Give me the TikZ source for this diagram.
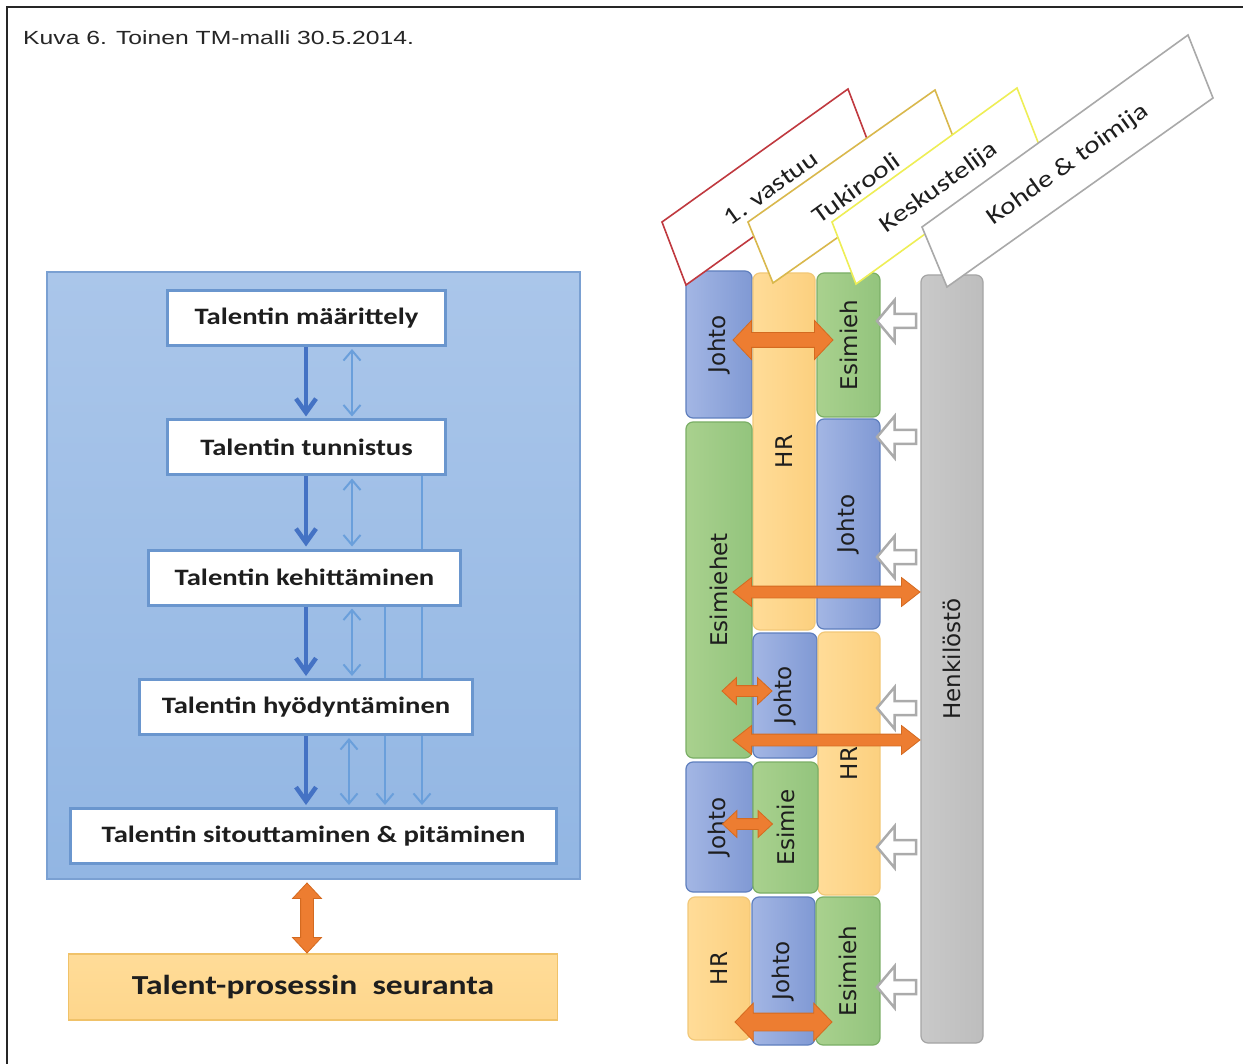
\documentclass[tikz,border=0pt]{standalone}
\usepackage{fontspec}
\setmainfont{Carlito}
\newfontfamily\capfont[FakeStretch=1.3]{Liberation Sans}
\newfontfamily\boxfont[FakeStretch=1.22]{Carlito}
\newfontfamily\colfont{DejaVu Sans}
\usetikzlibrary{arrows.meta,shapes.arrows,calc}

\definecolor{panelTop}{HTML}{AAC6EA}
\definecolor{panelBot}{HTML}{92B6E3}
\definecolor{panelLine}{HTML}{7AA0D2}
\definecolor{boxLine}{HTML}{6A96CE}
\definecolor{flowDark}{HTML}{4472C4}
\definecolor{flowLight}{HTML}{6A9FDB}
\definecolor{seurFill}{HTML}{FED68C}
\definecolor{seurLine}{HTML}{F0C269}
\definecolor{blueL}{HTML}{A3B6E4}
\definecolor{blueR}{HTML}{8099D4}
\definecolor{blueLine}{HTML}{5F7FBE}
\definecolor{orL}{HTML}{FFDC98}
\definecolor{orR}{HTML}{FCD07F}
\definecolor{orLine}{HTML}{F2C878}
\definecolor{grL}{HTML}{A9D18E}
\definecolor{grR}{HTML}{93C47D}
\definecolor{grLine}{HTML}{7BAF66}
\definecolor{gyL}{HTML}{C9C9C9}
\definecolor{gyR}{HTML}{BDBDBD}
\definecolor{gyLine}{HTML}{A5A5A5}
\definecolor{fatFill}{HTML}{ED7D31}
\definecolor{fatLine}{HTML}{D46A20}
\definecolor{hollowLine}{HTML}{ABABAB}
\definecolor{labRed}{HTML}{C0393F}
\definecolor{labGold}{HTML}{D9B84C}
\definecolor{labYellow}{HTML}{EEEE55}
\definecolor{labGrey}{HTML}{A9A9A9}
\definecolor{ink}{HTML}{1E1E1E}

\pgfdeclarelayer{back}
\pgfdeclarelayer{mid}
\pgfsetlayers{back,mid,main}

\tikzset{
  thintip/.tip={Straight Barb[length=10pt,width=17pt]},
  thicktip/.tip={Straight Barb[length=14pt,width=20pt]}
}

\begin{document}
\begin{tikzpicture}[x=1pt,y=-1pt,
  bluepanel/.style={draw=panelLine, line width=2pt, top color=panelTop, bottom color=panelBot, inner sep=0},
  stepbox/.style={draw=boxLine, line width=3pt, fill=white, inner sep=0, minimum height=55pt,
    text=ink, font=\boxfont\bfseries\fontsize{23.5}{26}\selectfont},
  seurbox/.style={draw=seurLine, line width=1.5pt, top color=orL, bottom color=seurFill, inner sep=0,
    text=ink, font=\boxfont\bfseries\fontsize{27.5}{30}\selectfont},
  thickarr/.style={draw=flowDark, line width=4.5pt, -thicktip, shorten >=2pt},
  thinarr/.style={draw=flowLight, line width=2pt},
  blk/.style={rounded corners=7pt, line width=1.2pt, inner sep=0, text=ink,
    font=\colfont\fontsize{23}{26}\selectfont},
  bluebk/.style={blk, draw=blueLine, left color=blueL, right color=blueR},
  orbk/.style={blk, draw=orLine, left color=orL, right color=orR},
  grbk/.style={blk, draw=grLine, left color=grL, right color=grR},
  gybk/.style={blk, draw=gyLine, left color=gyL, right color=gyR},
  fatdbl/.style={double arrow, fill=fatFill, draw=fatLine, line width=0.8pt, inner xsep=0},
  hollow/.style={single arrow, fill=white, draw=hollowLine, line width=2.5pt, inner xsep=0,
    inner ysep=5.75pt, minimum height=39pt, single arrow head extend=14pt,
    single arrow tip angle=100, rotate=180},
  lab/.style={fill=white, line width=1.6pt, line join=miter},
  labtext/.style={text=ink, inner sep=0, rotate=35.7, font=\boxfont\fontsize{24}{28}\selectfont}
]
\useasboundingbox (0,0) rectangle (1243,1064);
\begin{pgfonlayer}{back}
\fill[white] (0,0) rectangle (1243,1064);
\end{pgfonlayer}

% frame and caption
\draw[line width=2pt, black!85] (7,1064) -- (7,7) -- (1243,7);
\node[anchor=base west, inner sep=0, text=black!85, font=\capfont\fontsize{19}{22}\selectfont] (cap) at (23,45) {Kuva 6. Toinen TM-malli 30.5.2014.};

% ---------- process flow ----------
\begin{pgfonlayer}{back}
\node[bluepanel, minimum width=533pt, minimum height=607pt] (panel) at (313.5,575.5) {};
\end{pgfonlayer}

\node[stepbox, minimum width=278pt] (maar) at (306.5,318) {Talentin määrittely};
\node[stepbox, minimum width=278pt] (tunn) at (306.5,447.5) {Talentin tunnistus};
\node[stepbox, minimum width=312pt] (keh)  at (304.5,577.5) {Talentin kehittäminen};
\node[stepbox, minimum width=333pt] (hyo)  at (306,707) {Talentin hyödyntäminen};
\node[stepbox, minimum width=486pt] (sit)  at (313.5,836) {Talentin sitouttaminen \& pitäminen};
\node[seurbox, minimum width=489pt, minimum height=66pt] (seur) at (313,987) {Talent-prosessin\ \ seuranta};

\coordinate (ax) at (306,0);
\coordinate (bx) at (352,0);
\coordinate (bx2) at (349,0);
\coordinate (cx) at (385,0);
\coordinate (dx) at (422,0);

\draw[thickarr] (maar.south -| ax) -- (tunn.north -| ax);
\draw[thickarr] (tunn.south -| ax) -- (keh.north -| ax);
\draw[thickarr] (keh.south -| ax) -- (hyo.north -| ax);
\draw[thickarr] (hyo.south -| ax) -- (sit.north -| ax);

\draw[thinarr, thintip-thintip, shorten <=2pt, shorten >=2pt] (maar.south -| bx) -- (tunn.north -| bx);
\draw[thinarr, thintip-thintip, shorten <=2pt, shorten >=2pt] (tunn.south -| bx) -- (keh.north -| bx);
\draw[thinarr, thintip-thintip, shorten <=2pt, shorten >=2pt] (keh.south -| bx) -- (hyo.north -| bx);
\draw[thinarr, thintip-thintip, shorten <=2pt, shorten >=2pt] (hyo.south -| bx2) -- (sit.north -| bx2);

\begin{pgfonlayer}{mid}
\draw[thinarr, -thintip, shorten >=2pt] (tunn.south -| dx) -- (sit.north -| dx);
\draw[thinarr, -thintip, shorten >=2pt] (keh.south -| cx) -- (sit.north -| cx);
\end{pgfonlayer}

\node[fatdbl, rotate=90, minimum height=70pt, inner ysep=6pt, double arrow head extend=8pt,
  double arrow tip angle=86] (va) at (307,918) {};

% ---------- role columns ----------
\node[bluebk, minimum width=66pt, minimum height=147pt] (j1) at (719,344.5) {\rotatebox{90}{Johto}};
\node[orbk,   minimum width=62pt, minimum height=357pt] (hr1) at (784,451.5) {\rotatebox{90}{HR}};
\node[grbk,   minimum width=63pt, minimum height=144pt] (e1) at (848.5,345) {\rotatebox{90}{Esimieh}};
\node[grbk,   minimum width=66pt, minimum height=336pt] (e2) at (719,590) {\rotatebox{90}{Esimiehet}};
\node[bluebk, minimum width=63pt, minimum height=210pt] (j2) at (848.5,524) {\rotatebox{90}{Johto}};
\node[bluebk, minimum width=64pt, minimum height=125pt] (j3) at (785,695.5) {\rotatebox{90}{Johto}};
\node[orbk,   minimum width=62pt, minimum height=263pt] (hr2) at (849,763.5) {\rotatebox{90}{HR}};
\node[bluebk, minimum width=67pt, minimum height=130pt] (j4) at (719.5,827) {\rotatebox{90}{Johto}};
\node[grbk,   minimum width=65pt, minimum height=131pt] (e3) at (785.5,827.5) {\rotatebox{90}{Esimie}};
\node[orbk,   minimum width=62pt, minimum height=143pt] (hr3) at (719,968.5) {\rotatebox{90}{HR}};
\node[bluebk, minimum width=63pt, minimum height=148pt] (j5) at (783.5,971) {\rotatebox{90}{Johto}};
\node[grbk,   minimum width=64pt, minimum height=148pt] (e4) at (848,971) {\rotatebox{90}{Esimieh}};
\node[gybk,   minimum width=62pt, minimum height=768pt] (hk) at (952,659) {\rotatebox{90}{Henkilöstö}};

% slanted role headings
\draw[lab, draw=labRed] (662,222) -- (848,89) -- (872,152) -- (686,285) -- cycle;
\node[labtext] (t1) at (771,188) {1. vastuu};
\draw[lab, draw=labGold] (748,222) -- (935,90) -- (959,152) -- (773,283) -- cycle;
\node[labtext] (t2) at (856,188) {Tukirooli};
\draw[lab, draw=labYellow] (832,222) -- (1017,88) -- (1041,150) -- (856,284) -- cycle;
\node[labtext] (t3) at (939,188) {Keskustelija};
\draw[lab, draw=labGrey] (922,227) -- (1188,35) -- (1213,98) -- (947,287) -- cycle;
\node[labtext] (t4) at (1068,165) {Kohde \& toimija};

% interaction arrows
\node[fatdbl, minimum height=100pt, inner ysep=7pt, double arrow head extend=12pt, double arrow tip angle=93] (o1) at (783,340) {};
\node[fatdbl, minimum height=187pt, inner ysep=5.5pt, double arrow head extend=8.5pt, double arrow tip angle=76] (o2) at (826.5,592) {};
\node[fatdbl, minimum height=50pt, inner ysep=5pt, double arrow head extend=8pt, double arrow tip angle=86] (o3) at (747,691) {};
\node[fatdbl, minimum height=187pt, inner ysep=5.5pt, double arrow head extend=8.5pt, double arrow tip angle=76] (o4) at (826.5,740) {};
\node[fatdbl, minimum height=50pt, inner ysep=5pt, double arrow head extend=8pt, double arrow tip angle=86] (o5) at (747.5,824) {};
\node[fatdbl, minimum height=97pt, inner ysep=8.5pt, double arrow head extend=10pt, double arrow tip angle=92] (o6) at (783.5,1022) {};

% staff towards the roles
\node[hollow] (h1) at (899.5,321) {};
\node[hollow] (h2) at (899.5,437) {};
\node[hollow] (h3) at (899.5,557) {};
\node[hollow] (h4) at (899.5,708) {};
\node[hollow] (h5) at (899.5,847) {};
\node[hollow] (h6) at (899.5,987) {};
\end{tikzpicture}
\end{document}
